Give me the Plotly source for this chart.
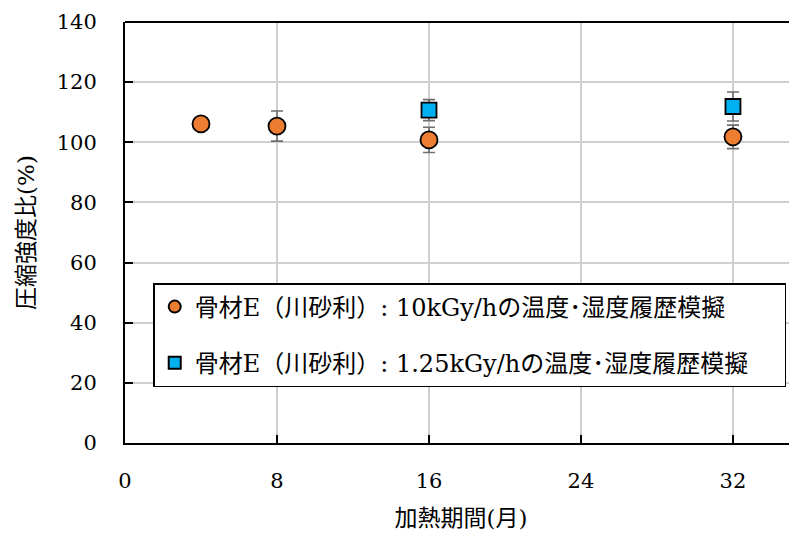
import plotly.graph_objects as go

# Data
months_10k = [4, 8, 16, 32]
ratio_10k = [106.1, 105.4, 100.8, 101.8]
err_10k = [0.0, 5.0, 4.2, 3.9]

months_125 = [16, 32]
ratio_125 = [110.7, 111.9]
err_125 = [3.5, 4.8]

name_10k = "骨材E（川砂利）: 10kGy/hの温度･湿度履歴模擬"
name_125 = "骨材E（川砂利）: 1.25kGy/hの温度･湿度履歴模擬"

x_ticks = [0, 8, 16, 24, 32]
y_ticks = [0, 20, 40, 60, 80, 100, 120, 140]

FONT = "DejaVu Serif, Noto Sans CJK JP, serif"
PAD = "\u00a0\u00a0\u00a0\u00a0"  # invisible padding so the legend box is as wide as the original

fig = go.Figure()
fig.add_trace(go.Scatter(
    x=months_10k, y=ratio_10k, mode="markers", name=name_10k + PAD,
    legendgroup="a",
    error_y=dict(type="data", array=err_10k, visible=True, color="#6e6e6e", thickness=1.6, width=6),
    marker=dict(symbol="circle", size=17, color="#ED7D31", line=dict(color="black", width=1.8)),
))
fig.add_trace(go.Scatter(
    x=months_125, y=ratio_125, mode="markers", name=name_125 + PAD,
    legendgroup="b",
    error_y=dict(type="data", array=err_125, visible=True, color="#6e6e6e", thickness=1.6, width=6),
    marker=dict(symbol="square", size=15, color="#00B0F0", line=dict(color="black", width=1.8)),
))

# the page body has an 8px default margin; size the figure so the plot area lands where it should
fig.update_layout(
    width=789, height=531,
    margin=dict(l=117, r=0, t=14, b=96),
    paper_bgcolor="white", plot_bgcolor="white",
    font=dict(family=FONT, size=21, color="black"),
    showlegend=True,
    legend=dict(
        x=0.042, y=0.38, xanchor="left", yanchor="top",
        bgcolor="white", bordercolor="black", borderwidth=1.5,
        font=dict(family=FONT, size=24, color="black"),
        traceorder="grouped", tracegroupgap=22,
        itemsizing="constant",
    ),
    xaxis=dict(
        range=[0, 35.37], tickvals=x_ticks, ticktext=[str(v) for v in x_ticks],
        showgrid=True, gridcolor="#cfcfcf", gridwidth=1.5,
        showline=True, linecolor="black", linewidth=2,
        ticks="inside", ticklen=8, tickcolor="black", tickwidth=1.5,
        ticklabelstandoff=18, automargin=False,
        zeroline=False,
        title=dict(text="加熱期間(月)", font=dict(family=FONT, size=23), standoff=18),
    ),
    yaxis=dict(
        range=[0, 140], tickvals=y_ticks, ticktext=[str(v) for v in y_ticks],
        showgrid=True, gridcolor="#cfcfcf", gridwidth=1.5,
        showline=True, linecolor="black", linewidth=2,
        ticks="inside", ticklen=8, tickcolor="black", tickwidth=1.5,
        ticklabelstandoff=22, automargin=False,
        zeroline=False,
        title=dict(text="圧縮強度比(%)", font=dict(family=FONT, size=23), standoff=16),
    ),
    shapes=[dict(type="line", xref="paper", yref="paper", x0=0, x1=1, y0=1, y1=1,
                 line=dict(color="black", width=2))],
)

fig.write_html("out.html")
